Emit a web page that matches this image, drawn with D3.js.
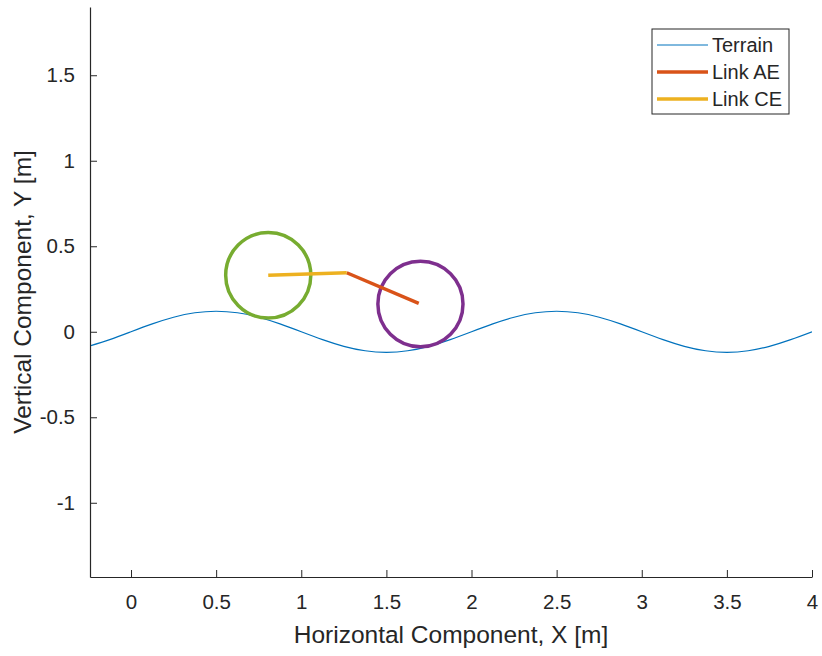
<html>
  <head>
    <meta charset="utf-8">
    <style>
body { margin: 0; background: #fff; }
text { font-family: "Liberation Sans", Arial, sans-serif; fill: #262626; }
.axis path, .axis line { stroke: #262626; }
    </style>
  </head>
  <body>
    <svg width="822" height="656"></svg>
    <script src="https://d3js.org/d3.v7.min.js"></script>
    <script>

// terrain profile
var terrainX = [-0.25, -0.125, 0, 0.125, 0.25, 0.375, 0.5, 0.625, 0.75, 0.875, 1,
  1.125, 1.25, 1.375, 1.5, 1.625, 1.75, 1.875, 2, 2.125, 2.25, 2.375, 2.5,
  2.625, 2.75, 2.875, 3, 3.125, 3.25, 3.375, 3.5, 3.625, 3.75, 3.875, 4];
var terrainY = [-0.085, -0.046, 0, 0.046, 0.085, 0.111, 0.12, 0.111, 0.085, 0.046, 0,
  -0.046, -0.085, -0.111, -0.12, -0.111, -0.085, -0.046, 0, 0.046, 0.085, 0.111, 0.12,
  0.111, 0.085, 0.046, 0, -0.046, -0.085, -0.111, -0.12, -0.111, -0.085, -0.046, 0];

// links (x, y pairs)
var linkAE = [[1.267, 0.345], [1.69, 0.166]];
var linkCE = [[0.806, 0.33], [1.267, 0.345]];

// wheels
var wheels = [
  {name: "C", cx: 0.806, cy: 0.33, r: 0.25, color: "#77AC30"},
  {name: "A", cx: 1.70, cy: 0.162, r: 0.25, color: "#7E2F8E"}
];

var xTicks = [0, 0.5, 1, 1.5, 2, 2.5, 3, 3.5, 4];
var yTicks = [-1, -0.5, 0, 0.5, 1, 1.5];

var legendItems = [
  {label: "Terrain", color: "#0072BD", width: 1},
  {label: "Link AE", color: "#D95319", width: 3.5},
  {label: "Link CE", color: "#EDB120", width: 3.5}
];

var svg = d3.select("svg"),
    margin = {top: 7, right: 10, bottom: 79, left: 90},
    width = +svg.attr("width") - margin.left - margin.right,
    height = +svg.attr("height") - margin.top - margin.bottom;

var x = d3.scaleLinear().domain([-0.241, 4]).range([0, width]),
    y = d3.scaleLinear().domain([-1.434, 1.899]).range([height, 0]);

var fmt = function(d) { return String(d); };

var g = svg.append("g")
  .attr("transform", "translate(" + margin.left + "," + margin.top + ")");

g.append("clipPath").attr("id", "clip")
  .append("rect").attr("width", width).attr("height", height);

var plot = g.append("g").attr("clip-path", "url(#clip)");

var terrain = terrainX.map(function(v, i) { return [v, terrainY[i]]; });
var line = d3.line()
  .x(function(d) { return x(d[0]); })
  .y(function(d) { return y(d[1]); })
  .curve(d3.curveNatural);

plot.append("path")
  .datum(terrain)
  .attr("fill", "none")
  .attr("stroke", "#0072BD")
  .attr("stroke-width", 1.2)
  .attr("d", line);

var straight = d3.line()
  .x(function(d) { return x(d[0]); })
  .y(function(d) { return y(d[1]); });

plot.selectAll(".wheel")
  .data(wheels)
  .enter().append("ellipse")
  .attr("class", "wheel")
  .attr("cx", function(d) { return x(d.cx); })
  .attr("cy", function(d) { return y(d.cy); })
  .attr("rx", function(d) { return x(d.r) - x(0); })
  .attr("ry", function(d) { return y(0) - y(d.r); })
  .attr("fill", "none")
  .attr("stroke", function(d) { return d.color; })
  .attr("stroke-width", 3.5);

plot.append("path")
  .datum(linkAE)
  .attr("fill", "none")
  .attr("stroke", "#D95319")
  .attr("stroke-width", 3.5)
  .attr("d", straight);

plot.append("path")
  .datum(linkCE)
  .attr("fill", "none")
  .attr("stroke", "#EDB120")
  .attr("stroke-width", 3.5)
  .attr("d", straight);

// axes, ticks pointing inward like MATLAB
var xAxis = g.append("g")
  .attr("class", "axis axis--x")
  .attr("transform", "translate(0," + height + ")")
  .call(d3.axisBottom(x).tickValues(xTicks).tickFormat(fmt).tickSizeInner(-7).tickSizeOuter(0).tickPadding(17));
xAxis.selectAll("text").style("font-size", "20.5px").attr("fill", "#262626");

var yAxis = g.append("g")
  .attr("class", "axis axis--y")
  .call(d3.axisLeft(y).tickValues(yTicks).tickFormat(fmt).tickSizeInner(-7).tickSizeOuter(0).tickPadding(15));
yAxis.selectAll("text").style("font-size", "20.5px").attr("fill", "#262626");
svg.selectAll(".axis path.domain").attr("stroke-width", 1.2);

// axis labels
svg.append("text")
  .attr("x", margin.left + width / 2)
  .attr("y", 643)
  .style("text-anchor", "middle")
  .style("font-size", "24.5px")
  .text("Horizontal Component, X [m]");

svg.append("text")
  .attr("transform", "rotate(-90)")
  .attr("x", -(margin.top + height / 2))
  .attr("y", 31)
  .style("text-anchor", "middle")
  .style("font-size", "24.5px")
  .text("Vertical Component, Y [m]");

// legend
var legend = svg.append("g").attr("transform", "translate(652,29)");
legend.append("rect")
  .attr("width", 137).attr("height", 85)
  .attr("fill", "#fff")
  .attr("stroke", "#262626")
  .attr("stroke-width", 1);

var item = legend.selectAll(".item")
  .data(legendItems)
  .enter().append("g")
  .attr("class", "item")
  .attr("transform", function(d, i) { return "translate(0," + (16 + i * 27) + ")"; });

item.append("line")
  .attr("x1", 5).attr("x2", 56)
  .attr("stroke", function(d) { return d.color; })
  .attr("stroke-width", function(d) { return d.width; });

item.append("text")
  .attr("x", 60)
  .attr("dy", "0.35em")
  .style("font-size", "20px")
  .text(function(d) { return d.label; });

    </script>
  </body>
</html>
